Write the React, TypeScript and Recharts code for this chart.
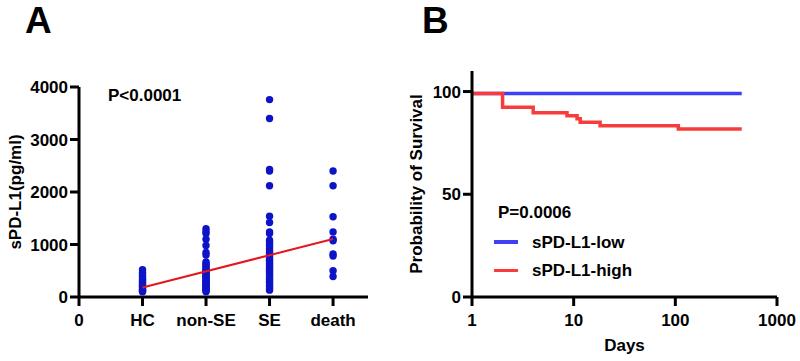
import { Line, LineChart, Scatter, ScatterChart, XAxis, YAxis } from "recharts";

// Panel A: sPD-L1 levels per group (pg/ml)
const GROUP_LABELS = ["0", "HC", "non-SE", "SE", "death"];
const HC = [520, 470, 430, 400, 370, 340, 310, 290, 270, 250, 230, 210, 190, 170, 150, 130, 110, 100];
const NON_SE = [
  1300, 1250, 1210, 1100, 980, 850, 800, 670, 640, 610, 580, 550, 520, 500, 480, 460, 440, 420, 400, 380, 360, 340,
  320, 300, 280, 260, 240, 220, 200, 180, 160, 140, 120, 100,
];
const SE = [
  3760, 3400, 2430, 2400, 2120, 1540, 1420, 1240, 1210, 1080, 1040, 1000, 960, 920, 880, 850, 820, 790, 760, 730, 700,
  670, 640, 610, 580, 550, 520, 490, 460, 430, 400, 370, 340, 310, 280, 250, 220, 190, 160, 130,
];
const DEATH = [2400, 2120, 1530, 1240, 1100, 1070, 820, 780, 500, 390];
const TREND_X = [1, 4];
const TREND_Y = [180, 1105];
const Y_TICKS_A = [0, 1000, 2000, 3000, 4000];

// Panel B: Kaplan-Meier survival (%)
const LOW_DAYS = [1, 450];
const LOW_PCT = [99, 99];
const HIGH_DAYS = [1, 2, 4, 8.6, 10.8, 11.6, 18.2, 107, 450];
const HIGH_PCT = [99, 92.3, 89.7, 88.2, 86.8, 85, 83.4, 81.8, 81.8];
const DAY_TICKS = [1, 10, 100, 1000];
const Y_TICKS_B = [0, 50, 100];
const SERIES_NAMES = ["sPD-L1-low", "sPD-L1-high"];

const FONT = '"Liberation Sans", Arial, sans-serif';
const DOT_BLUE = "#0d14c8";
const LOW_BLUE = "#3f3ff5";
const HIGH_RED = "#f83c3c";
const TREND_RED = "#e3171c";

const toPoints = (vals: number[], x: number) => vals.map((y) => ({ x, y }));
const tickStyle = { fontSize: 17, fontWeight: 700, fill: "#000" };
const labelStyle = { fontSize: 17, fontWeight: 700, fill: "#000" };
const axisStroke = { stroke: "#000", strokeWidth: 3 };

const Dot = (props: any) => <circle cx={props.cx} cy={props.cy} r={3.7} fill={DOT_BLUE} />;

const trend = TREND_X.map((x, i) => ({ x, y: TREND_Y[i] }));
const low = LOW_DAYS.map((day, i) => ({ day, pct: LOW_PCT[i] }));
const high = HIGH_DAYS.map((day, i) => ({ day, pct: HIGH_PCT[i] }));

function KmLegend() {
  const colors = [LOW_BLUE, HIGH_RED];
  return (
    <div style={{ position: "absolute", left: 494, top: 228 }}>
      {SERIES_NAMES.map((name, i) => (
        <div key={name} style={{ display: "flex", alignItems: "center", height: 28.3 }}>
          <div style={{ width: 24, height: 3.5, background: colors[i], marginRight: 14 }} />
          <span style={{ fontSize: 17, fontWeight: 700, color: "#000", lineHeight: 1 }}>{name}</span>
        </div>
      ))}
    </div>
  );
}

const note = (text: string, left: number, top: number, size: number) => (
  <div style={{ position: "absolute", left, top, fontSize: size, fontWeight: 700, lineHeight: 1, whiteSpace: "nowrap" }}>
    {text}
  </div>
);

export default function App() {
  return (
    <div style={{ position: "absolute", left: 0, top: 0, width: 800, height: 361, background: "#fff", fontFamily: FONT }}>
      <div style={{ position: "absolute", left: 0, top: 0 }}>
        <ScatterChart width={400} height={361} margin={{ top: 87, right: 32, bottom: 0, left: 0 }}>
          <XAxis
            type="number"
            dataKey="x"
            domain={[0, 4.55]}
            ticks={[0, 1, 2, 3, 4]}
            tickFormatter={(v) => GROUP_LABELS[v]}
            tick={tickStyle}
            axisLine={axisStroke}
            tickLine={axisStroke}
            tickSize={9}
            tickMargin={8}
            height={64}
          />
          <YAxis
            type="number"
            dataKey="y"
            domain={[0, 4000]}
            ticks={Y_TICKS_A}
            tick={tickStyle}
            axisLine={axisStroke}
            tickLine={axisStroke}
            tickSize={9}
            tickMargin={2}
            width={79}
            label={{ value: "sPD-L1(pg/ml)", angle: -90, position: "center", dx: -25, style: labelStyle }}
          />
          <Scatter data={toPoints(HC, 1)} shape={Dot} isAnimationActive={false} />
          <Scatter data={toPoints(NON_SE, 2)} shape={Dot} isAnimationActive={false} />
          <Scatter data={toPoints(SE, 3)} shape={Dot} isAnimationActive={false} />
          <Scatter data={toPoints(DEATH, 4)} shape={Dot} isAnimationActive={false} />
          <Scatter data={trend} line={{ stroke: TREND_RED, strokeWidth: 2 }} shape={() => <g />} isAnimationActive={false} />
        </ScatterChart>
      </div>

      <div style={{ position: "absolute", left: 400, top: 0 }}>
        <LineChart width={400} height={361} margin={{ top: 71, right: 23, bottom: 0, left: 0 }}>
          <XAxis
            type="number"
            dataKey="day"
            scale="log"
            domain={[1, 1000]}
            ticks={DAY_TICKS}
            allowDataOverflow
            tick={tickStyle}
            axisLine={axisStroke}
            tickLine={axisStroke}
            tickSize={9}
            tickMargin={8}
            height={64}
            label={{ value: "Days", position: "insideBottom", offset: 10, style: labelStyle }}
          />
          <YAxis
            type="number"
            domain={[0, 110]}
            ticks={Y_TICKS_B}
            tick={tickStyle}
            axisLine={axisStroke}
            tickLine={axisStroke}
            tickSize={9}
            tickMargin={2}
            width={72}
            label={{ value: "Probability of Survival", angle: -90, position: "center", dx: -20, style: labelStyle }}
          />
          <Line data={low} dataKey="pct" name={SERIES_NAMES[0]} type="stepAfter" stroke={LOW_BLUE} strokeWidth={3.5} dot={false} isAnimationActive={false} />
          <Line data={high} dataKey="pct" name={SERIES_NAMES[1]} type="stepAfter" stroke={HIGH_RED} strokeWidth={3.5} dot={false} isAnimationActive={false} />
        </LineChart>
      </div>

      <KmLegend />
      {note("A", 25, 2, 37)}
      {note("B", 422, 2, 37)}
      {note("P<0.0001", 108, 87, 17)}
      {note("P=0.0006", 498, 204, 17)}
    </div>
  );
}
